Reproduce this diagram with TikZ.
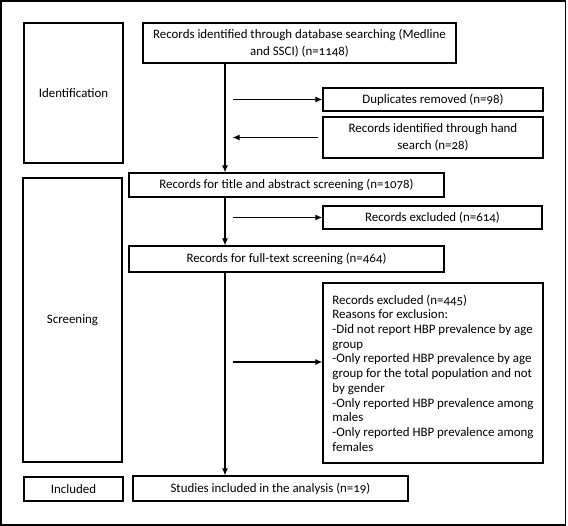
\documentclass[tikz,border=0pt]{standalone}
\usepackage{fontspec}
\setmainfont{Carlito}[Numbers=OldStyle]
\usetikzlibrary{arrows.meta}

\begin{document}
\begin{tikzpicture}[x=1pt, y=1pt,
        box/.style={draw, line width=1.2pt, inner sep=2pt, align=center,
                    font=\fontsize{12.9}{16.5}\selectfont},
        flow/.style={line width=1.2pt, -{Latex[length=7pt, width=6pt]}}]
                \useasboundingbox (0, 0) rectangle (568, 526);
                \draw[line width=1.4pt] (1, 1) rectangle (565.5, 525);

                % stage labels
                \node[box, minimum width=99pt, minimum height=140pt] (ident) at (73.5, 433) {Identification};
                \node[box, minimum width=99pt, minimum height=284pt] (screen) at (72.5, 206) {Screening};
                \node[box, minimum width=99pt, minimum height=24pt] (incl) at (73.5, 37) {Included};

                % main flow
                \node[box, minimum width=313pt, minimum height=40pt] (db) at (299.5, 483) {Records identified through database searching (Medline\\ and SSCI) (n=1148)};
                \node[box, minimum width=315pt, minimum height=24pt] (title) at (286.5, 341) {Records for title and abstract screening (n=1078)};
                \node[box, minimum width=315pt, minimum height=26pt] (full) at (286.5, 267) {Records for full-text screening (n=464)};
                \node[box, minimum width=275pt, minimum height=25pt] (studies) at (270.5, 37.5) {Studies included in the analysis (n=19)};

                % side boxes
                \node[box, minimum width=220pt, minimum height=23pt] (dup) at (433, 426.5) {Duplicates removed (n=98)};
                \node[box, minimum width=220pt, minimum height=41pt] (hand) at (433, 388.5) {Records identified through hand\\ search (n=28)};
                \node[box, minimum width=219pt, minimum height=23pt] (excla) at (432.5, 308.5) {Records excluded (n=614)};
                \node[box, minimum width=220pt, minimum height=180pt, inner xsep=9pt, align=left,
                      font=\fontsize{12.9}{14.7}\selectfont] (exclb) at (433, 153) {Records excluded (n=445)\\
                    Reasons for exclusion:\\
                    -Did not report HBP prevalence by age\\
                    group\\
                    -Only reported HBP prevalence by age\\
                    group for the total population and not\\
                    by gender\\
                    -Only reported HBP prevalence among\\
                    males\\
                    -Only reported HBP prevalence among\\
                    females};

                \coordinate (spine) at (225, 526);
                \coordinate (branch) at (232.5, 526);
                \coordinate (branchb) at (232.5, 164);

                \draw[flow] (spine |- db.south) -- (spine |- title.north);
                \draw[flow] (spine |- title.south) -- (spine |- full.north);
                \draw[flow] (spine |- full.south) -- (spine |- studies.north);

                \draw[flow] (branch |- dup.west) -- (dup.west);
                \draw[flow] ([xshift=-4pt]hand.west) -- (branch |- hand.west);
                \draw[flow] (branch |- excla.west) -- (excla.west);
                \draw[flow] (branchb) -- (branchb -| exclb.west);
            \end{tikzpicture}
\end{document}
